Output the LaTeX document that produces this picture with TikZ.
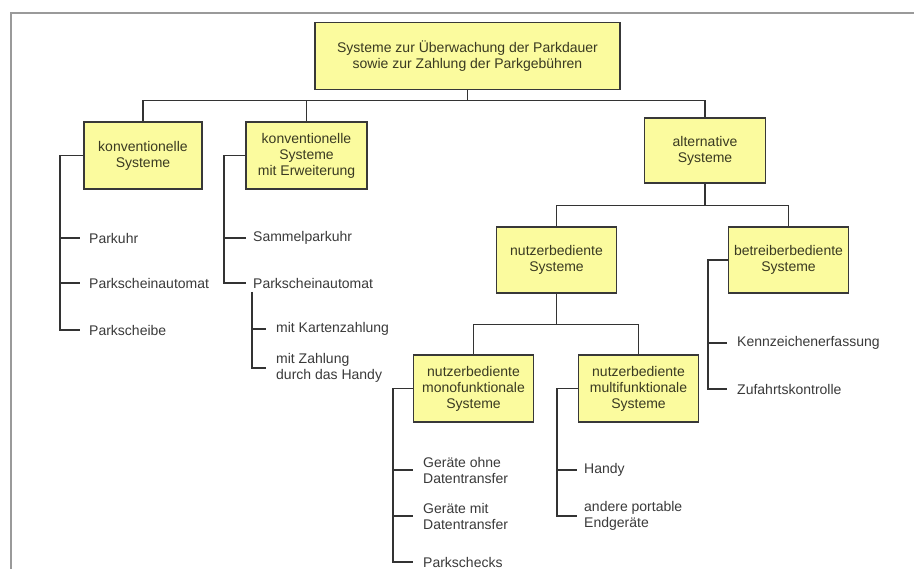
\documentclass[tikz,border=0pt]{standalone}
\usepackage{fontspec}
\setmainfont{Liberation Sans}
\definecolor{boxfill}{HTML}{FBFB9E}
\definecolor{boxline}{HTML}{383838}
\definecolor{connline}{HTML}{333333}
\definecolor{leaftext}{HTML}{3A3A3A}
\definecolor{boxtext}{HTML}{3A3A22}
\definecolor{framegray}{HTML}{9A9A9A}
\newcommand\dlabelfont{\fontsize{14}{16}\selectfont}
\begin{document}
\begin{tikzpicture}[x=1pt,y=-1pt,
  box/.style={draw=boxline, fill=boxfill, line width=1.6pt, minimum width=120pt, minimum height=66pt, align=center, inner sep=2pt, font=\dlabelfont, text=boxtext},
  leaf/.style={anchor=west, align=left, inner sep=0pt, font=\dlabelfont, text=leaftext},
  conn/.style={draw=connline, line width=1.4pt},
  ]
\useasboundingbox (0,0) rectangle (914,569);
\fill[white] (0,0) rectangle (914,569);
% frame
\draw[framegray, line width=2pt] (11,569) -- (11,13) -- (914,13);

% boxes
\node[box, minimum width=305pt, minimum height=67pt] (top) at (467.5,56) {Systeme zur Überwachung der Parkdauer\\sowie zur Zahlung der Parkgebühren};
\node[box, minimum width=118pt, minimum height=67pt] (konv) at (143,155.5) {konventionelle\\Systeme};
\node[box, minimum width=121pt, minimum height=67pt] (konvE) at (306.5,155.5) {konventionelle\\Systeme\\mit Erweiterung};
\node[box, minimum width=121pt, minimum height=65pt] (alt) at (705,150.5) {alternative\\Systeme};
\node[box] (nutz) at (556.5,260) {nutzerbediente\\Systeme};
\node[box] (betr) at (788.5,260) {betreiberbediente\\Systeme};
\node[box, minimum height=67pt] (mono) at (473.5,388.5) {nutzerbediente\\monofunktionale\\Systeme};
\node[box, minimum height=67pt] (multi) at (638.5,388.5) {nutzerbediente\\multifunktionale\\Systeme};

% tree connectors
\draw[conn] (top.south) -- ++(0,10) coordinate (bus0);
\draw[conn] (bus0) -| (konv.north);
\draw[conn] (bus0) -| (konvE.north);
\draw[conn] (bus0) -| (alt.north);
\draw[conn] (alt.south) -- ++(0,22) coordinate (bus1);
\draw[conn] (bus1) -| (nutz.north);
\draw[conn] (bus1) -| (betr.north);
\draw[conn] (nutz.south) -- ++(0,31) coordinate (bus2);
\draw[conn] (bus2) -| (mono.north);
\draw[conn] (bus2) -| (multi.north);

% leaves: konventionelle Systeme
\node[leaf] (k1) at (89,238) {Parkuhr};
\node[leaf] (k2) at (89,283) {Parkscheinautomat};
\node[leaf] (k3) at (89,330) {Parkscheibe};
\coordinate (kx) at (60,0);
\draw[conn] (konv.west) -- (konv.west -| kx) -- (k3.west -| kx) -- ([xshift=-9pt]k3.west);
\draw[conn] (k1.west -| kx) -- ([xshift=-9pt]k1.west);
\draw[conn] (k2.west -| kx) -- ([xshift=-9pt]k2.west);

% leaves: konventionelle Systeme mit Erweiterung
\node[leaf] (e1) at (253,238) {Sammelparkuhr};
\node[leaf] (e2) at (253,283) {Parkscheinautomat};
\coordinate (ex) at (224,0);
\draw[conn] (konvE.west) -- (konvE.west -| ex) -- (e2.west -| ex) -- ([xshift=-7pt]e2.west);
\draw[conn] (e1.west -| ex) -- ([xshift=-7pt]e1.west);

\node[leaf] (s1) at (276,329) {mit Kartenzahlung};
\node[leaf] (s2) at (276,368) {mit Zahlung\\durch das Handy};
\coordinate (sx) at (252,292);
\draw[conn] (sx) -- (s2.west -| sx) -- ([xshift=-10pt]s2.west);
\draw[conn] (s1.west -| sx) -- ([xshift=-10pt]s1.west);

% leaves: betreiberbediente Systeme
\node[leaf] (b1) at (737,343) {Kennzeichenerfassung};
\node[leaf] (b2) at (737,389) {Zufahrtskontrolle};
\coordinate (bx) at (708,0);
\draw[conn] (betr.west) -- (betr.west -| bx) -- (b2.west -| bx) -- ([xshift=-10pt]b2.west);
\draw[conn] (b1.west -| bx) -- ([xshift=-10pt]b1.west);

% leaves: monofunktionale
\node[leaf] (m1) at (423,470) {Geräte ohne\\Datentransfer};
\node[leaf] (m2) at (423,516) {Geräte mit\\Datentransfer};
\node[leaf] (m3) at (423,562) {Parkschecks};
\coordinate (mx) at (393,0);
\draw[conn] (mono.west) -- (mono.west -| mx) -- (m3.west -| mx) -- ([xshift=-10pt]m3.west);
\draw[conn] (m1.west -| mx) -- ([xshift=-10pt]m1.west);
\draw[conn] (m2.west -| mx) -- ([xshift=-10pt]m2.west);

% leaves: multifunktionale
\node[leaf] (u1) at (584,470) {Handy};
\node[leaf] (u2) at (584,516) {andere portable\\Endgeräte};
\coordinate (ux) at (557,0);
\draw[conn] (multi.west) -- (multi.west -| ux) -- (u2.west -| ux) -- ([xshift=-7pt]u2.west);
\draw[conn] (u1.west -| ux) -- ([xshift=-7pt]u1.west);
\end{tikzpicture}
\end{document}
